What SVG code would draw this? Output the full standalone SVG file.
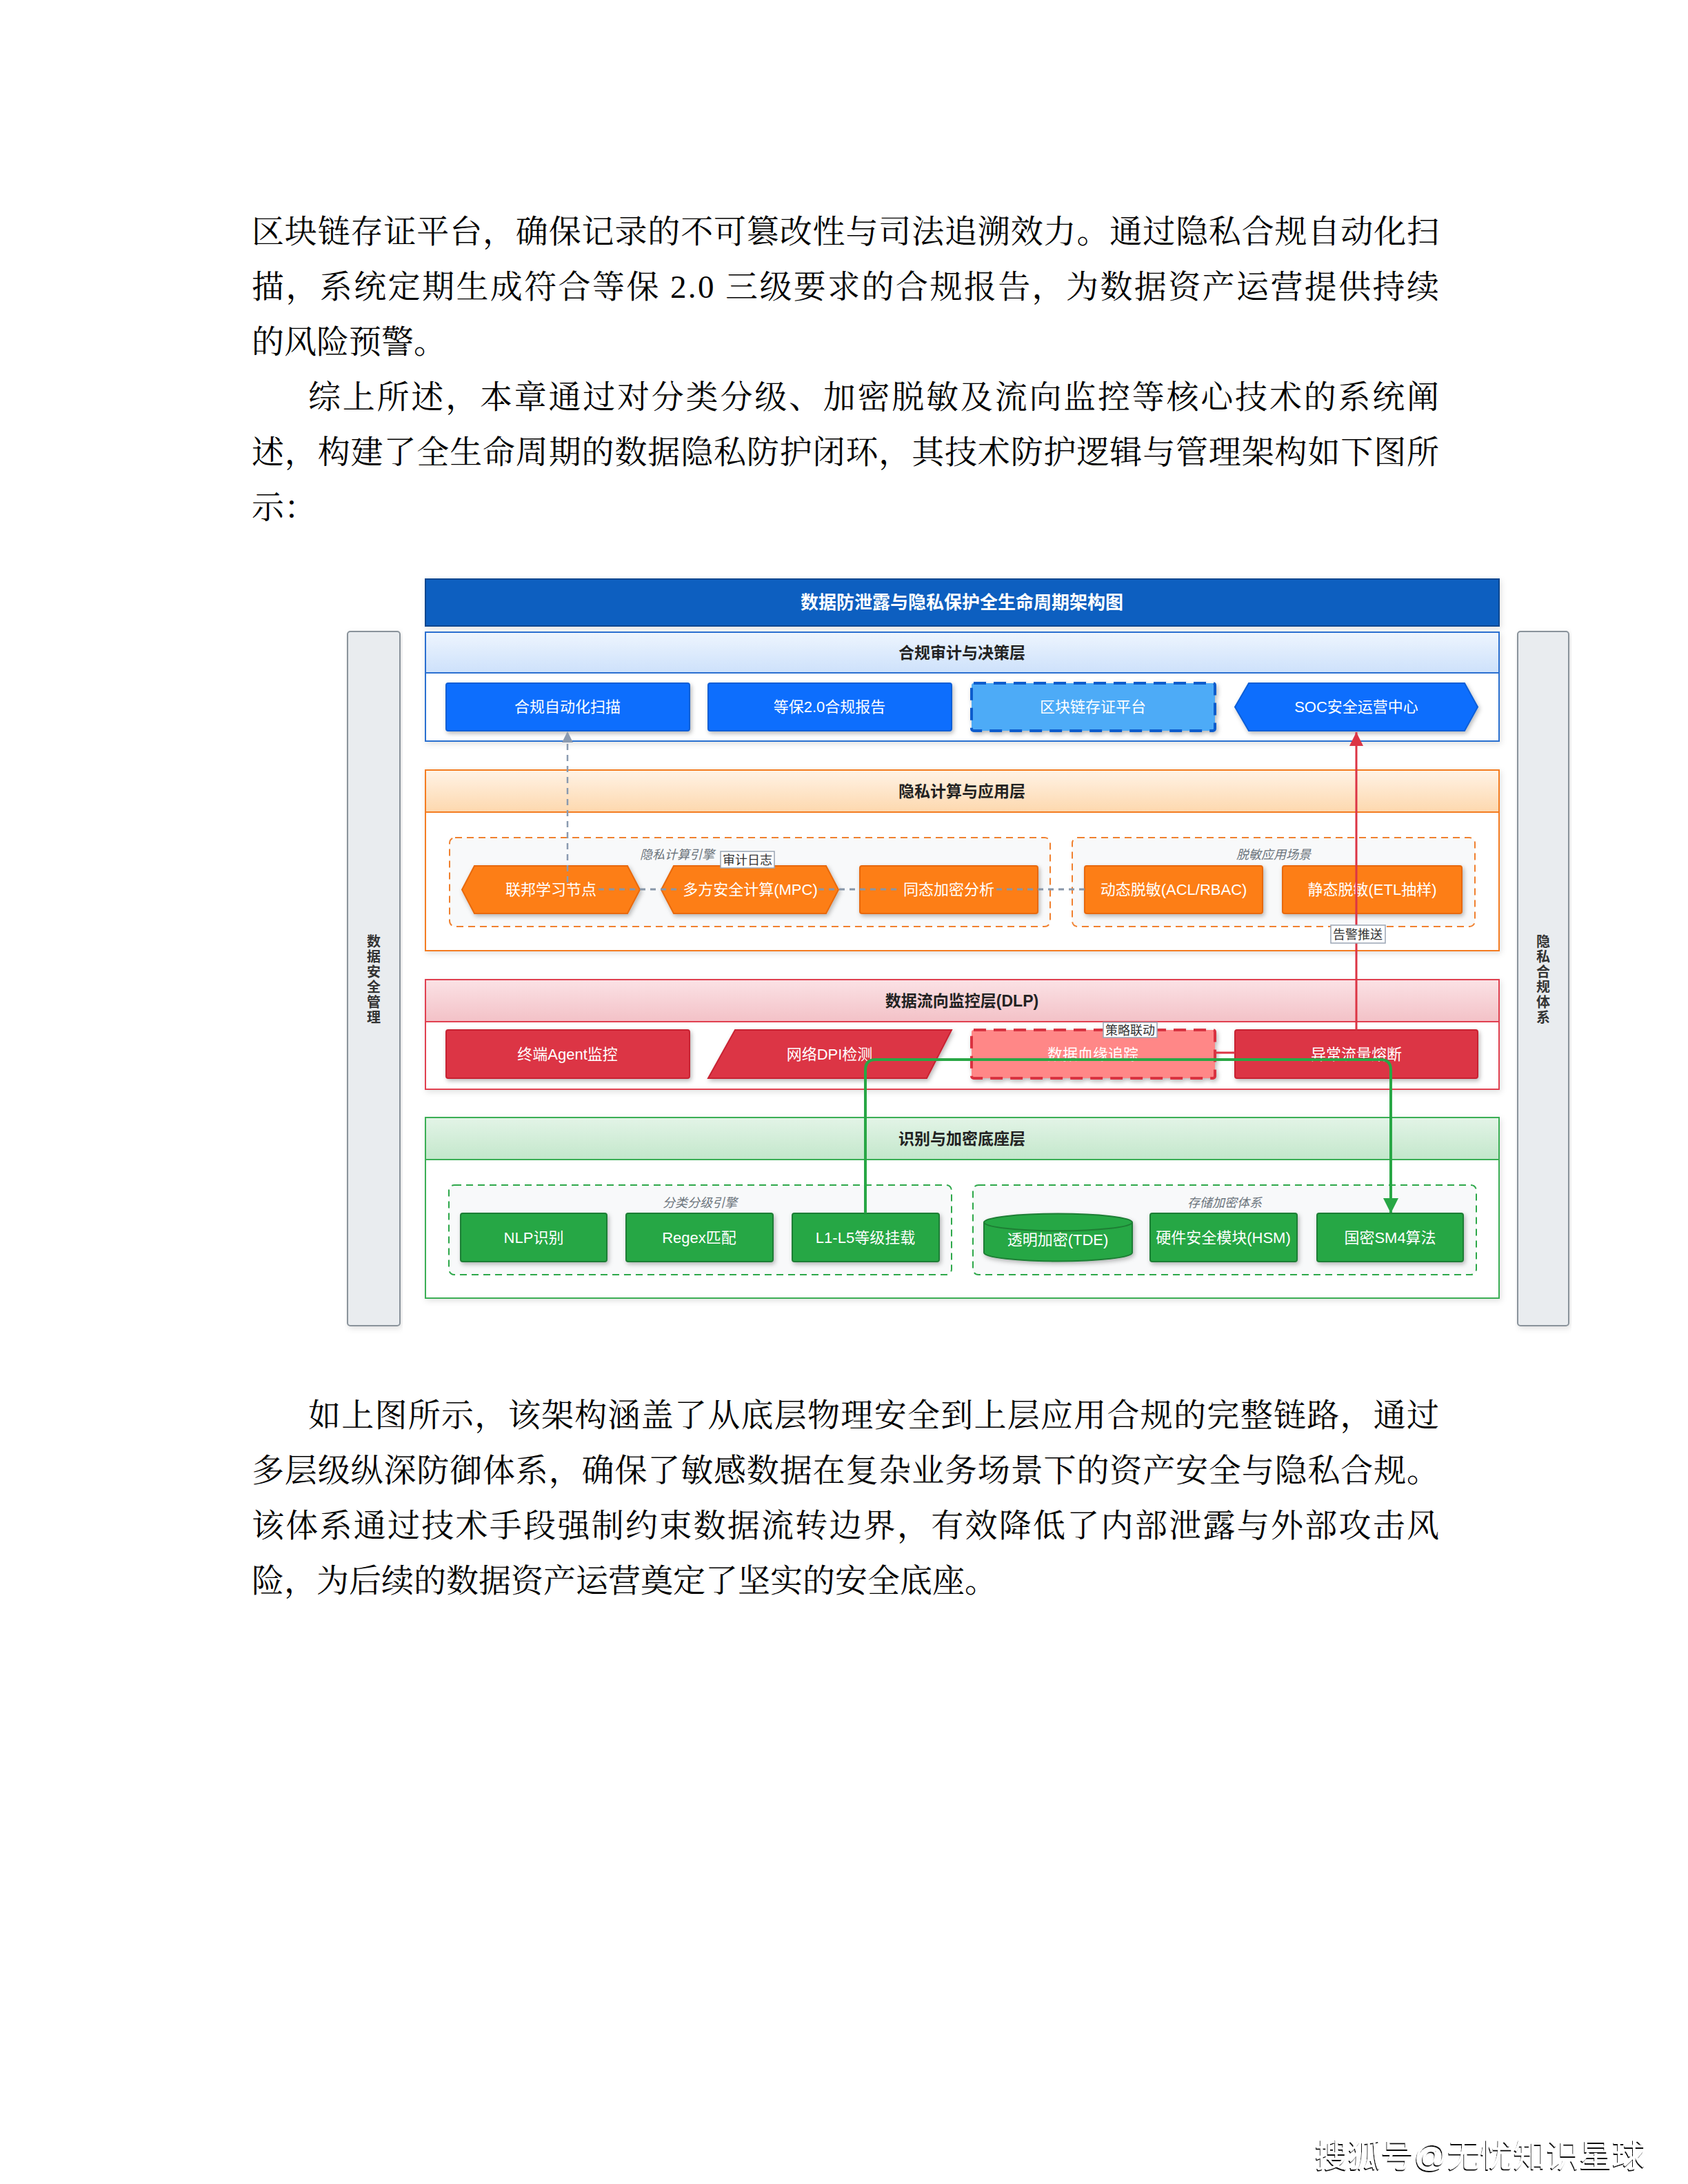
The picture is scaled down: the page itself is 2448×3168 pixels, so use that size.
<svg xmlns="http://www.w3.org/2000/svg" width="2448" height="3168" viewBox="0 0 2448 3168">
<style>
.page{font-family:"Liberation Serif","Noto Serif CJK SC","Noto Sans CJK SC",serif;font-size:47px;fill:#000}
.nt{font-family:"Liberation Sans","Noto Sans CJK SC",sans-serif;font-size:22px;fill:#fff;text-anchor:middle}
.ht{font-family:"Liberation Sans","Noto Sans CJK SC",sans-serif;font-size:23px;font-weight:bold;fill:#222;text-anchor:middle}
.gl{font-family:"Liberation Sans","Noto Sans CJK SC",sans-serif;font-size:18px;font-style:italic;fill:#6c757d;text-anchor:middle}
.el{font-family:"Liberation Sans","Noto Sans CJK SC",sans-serif;font-size:18px;fill:#333;text-anchor:middle}
.elb{fill:#fff;stroke:#9aa5b4;stroke-width:1.5}
.vt{font-family:"Liberation Sans","Noto Sans CJK SC",sans-serif;font-size:20px;font-weight:bold;fill:#333;text-anchor:middle}
.side{fill:#e9ecef;stroke:#8a939b;stroke-width:2}
.body{fill:#fff;stroke-width:2}
.nb{fill:#0d6efd;stroke:#0b5ed7;stroke-width:2}
.no{fill:#fd7e14;stroke:#e8690b;stroke-width:2}
.nr{fill:#dc3545;stroke:#c82333;stroke-width:2}
.ng{fill:#28a745;stroke:#1e7e34;stroke-width:2}
.grpo{fill:#f8f9fa;stroke:#f0802f;stroke-width:2;stroke-dasharray:10 7}
.grpg{fill:#f8f9fa;stroke:#2ea84a;stroke-width:2;stroke-dasharray:10 7}
</style>
<defs>
<filter id="sh" x="-10%" y="-20%" width="125%" height="150%">
<feDropShadow dx="2" dy="3" stdDeviation="3" flood-color="#000" flood-opacity="0.28"/>
</filter>
<filter id="shl" x="-5%" y="-10%" width="110%" height="125%">
<feDropShadow dx="2" dy="3" stdDeviation="4" flood-color="#000" flood-opacity="0.12"/>
</filter>
<filter id="wm" x="-5%" y="-30%" width="110%" height="160%">
<feDropShadow dx="-1" dy="2" stdDeviation="0.6" flood-color="#000" flood-opacity="0.95"/>
</filter>
<linearGradient id="gB" x1="0" y1="0" x2="0" y2="1"><stop offset="0" stop-color="#eef5fe"/><stop offset="1" stop-color="#cde1fb"/></linearGradient>
<linearGradient id="gO" x1="0" y1="0" x2="0" y2="1"><stop offset="0" stop-color="#fff3e6"/><stop offset="1" stop-color="#fdd8ae"/></linearGradient>
<linearGradient id="gR" x1="0" y1="0" x2="0" y2="1"><stop offset="0" stop-color="#fbe2e5"/><stop offset="1" stop-color="#f3c1c7"/></linearGradient>
<linearGradient id="gG" x1="0" y1="0" x2="0" y2="1"><stop offset="0" stop-color="#e3f4e7"/><stop offset="1" stop-color="#c3e7cb"/></linearGradient>
<marker id="aGray" markerUnits="userSpaceOnUse" markerWidth="16" markerHeight="20" refX="15" refY="8" orient="auto"><path d="M0,0 L16,8 L0,16 Z" fill="#8a9ab0"/></marker>
<marker id="aRed" markerUnits="userSpaceOnUse" markerWidth="22" markerHeight="22" refX="20" refY="10" orient="auto"><path d="M0,0 L20,10 L0,20 Z" fill="#dc3545"/></marker>
<marker id="aGreen" markerUnits="userSpaceOnUse" markerWidth="24" markerHeight="24" refX="21" refY="11" orient="auto"><path d="M0,0 L22,11 L0,22 Z" fill="#28a745"/></marker>
</defs>
<rect x="0" y="0" width="2448" height="3168" fill="#fff"/>

<g id="page-text" class="page">
<text x="365" y="352" textLength="1722" lengthAdjust="spacing">区块链存证平台，确保记录的不可篡改性与司法追溯效力。通过隐私合规自动化扫</text>
<text x="365" y="432" textLength="1722" lengthAdjust="spacing">描，系统定期生成符合等保 2.0 三级要求的合规报告，为数据资产运营提供持续</text>
<text x="365" y="512">的风险预警。</text>
<text x="447" y="592" textLength="1640" lengthAdjust="spacing">综上所述，本章通过对分类分级、加密脱敏及流向监控等核心技术的系统阐</text>
<text x="365" y="672" textLength="1722" lengthAdjust="spacing">述，构建了全生命周期的数据隐私防护闭环，其技术防护逻辑与管理架构如下图所</text>
<text x="365" y="752">示：</text>
<text x="447" y="2069" textLength="1640" lengthAdjust="spacing">如上图所示，该架构涵盖了从底层物理安全到上层应用合规的完整链路，通过</text>
<text x="365" y="2149" textLength="1722" lengthAdjust="spacing">多层级纵深防御体系，确保了敏感数据在复杂业务场景下的资产安全与隐私合规。</text>
<text x="365" y="2229" textLength="1722" lengthAdjust="spacing">该体系通过技术手段强制约束数据流转边界，有效降低了内部泄露与外部攻击风</text>
<text x="365" y="2309">险，为后续的数据资产运营奠定了坚实的安全底座。</text>
</g>

<g id="side-left">
<rect class="side" x="504" y="916" width="76" height="1007" rx="4" filter="url(#shl)"/>
<text class="vt"><tspan x="542" y="1373">数</tspan><tspan x="542" y="1395">据</tspan><tspan x="542" y="1417">安</tspan><tspan x="542" y="1439">全</tspan><tspan x="542" y="1461">管</tspan><tspan x="542" y="1483">理</tspan></text>
</g>
<g id="side-right">
<rect class="side" x="2201" y="916" width="74" height="1007" rx="4" filter="url(#shl)"/>
<text class="vt"><tspan x="2238" y="1373">隐</tspan><tspan x="2238" y="1395">私</tspan><tspan x="2238" y="1417">合</tspan><tspan x="2238" y="1439">规</tspan><tspan x="2238" y="1461">体</tspan><tspan x="2238" y="1483">系</tspan></text>
</g>

<g id="title">
<rect x="617" y="840" width="1557" height="68" fill="#0b5ec0" stroke="#0a468f" stroke-width="2" filter="url(#shl)"/>
<text x="1395" y="883" font-family="Liberation Sans,Noto Sans CJK SC,sans-serif" font-size="26" font-weight="bold" fill="#fff" text-anchor="middle">数据防泄露与隐私保护全生命周期架构图</text>
</g>

<g id="layer-compliance">
<rect class="body" x="617" y="917" width="1557" height="158" stroke="#2a6fd0" filter="url(#shl)"/>
<rect x="617" y="917" width="1557" height="59" fill="url(#gB)" stroke="#2a6fd0" stroke-width="2"/>
<text class="ht" x="1395" y="955">合规审计与决策层</text>
</g>
<g id="layer-privacy">
<rect class="body" x="617" y="1117" width="1557" height="262" stroke="#f47c20" filter="url(#shl)"/>
<rect x="617" y="1117" width="1557" height="61" fill="url(#gO)" stroke="#f47c20" stroke-width="2"/>
<text class="ht" x="1395" y="1156">隐私计算与应用层</text>
</g>
<g id="layer-dlp">
<rect class="body" x="617" y="1421" width="1557" height="159" stroke="#e04050" filter="url(#shl)"/>
<rect x="617" y="1421" width="1557" height="61" fill="url(#gR)" stroke="#e04050" stroke-width="2"/>
<text class="ht" x="1395" y="1460">数据流向监控层(DLP)</text>
</g>
<g id="layer-base">
<rect class="body" x="617" y="1621" width="1557" height="262" stroke="#3aae54" filter="url(#shl)"/>
<rect x="617" y="1621" width="1557" height="61" fill="url(#gG)" stroke="#3aae54" stroke-width="2"/>
<text class="ht" x="1395" y="1660">识别与加密底座层</text>
</g>

<g id="group-privacy-engine">
<rect class="grpo" x="652" y="1215" width="871" height="129" rx="8"/>
<text class="gl" x="982" y="1246">隐私计算引擎</text>
</g>
<g id="group-desens">
<rect class="grpo" x="1555" y="1215" width="584" height="129" rx="8"/>
<text class="gl" x="1847" y="1246">脱敏应用场景</text>
</g>
<g id="group-classify">
<rect class="grpg" x="651" y="1719" width="729" height="130" rx="8"/>
<text class="gl" x="1015" y="1751">分类分级引擎</text>
</g>
<g id="group-storage">
<rect class="grpg" x="1411" y="1719" width="730" height="130" rx="8"/>
<text class="gl" x="1776" y="1751">存储加密体系</text>
</g>

<g id="n-scan"><rect class="nb" x="647" y="991" width="353" height="69" rx="3" filter="url(#sh)"/><text class="nt" x="823" y="1033">合规自动化扫描</text></g>
<g id="n-report"><rect class="nb" x="1027" y="991" width="353" height="69" rx="3" filter="url(#sh)"/><text class="nt" x="1203" y="1033">等保2.0合规报告</text></g>
<g id="n-chain"><rect x="1409" y="991" width="353" height="69" rx="3" fill="#4dabf7" stroke="#0b5ccc" stroke-width="4" stroke-dasharray="18 11" filter="url(#sh)"/><text class="nt" x="1585" y="1033" fill="#e8f2fc">区块链存证平台</text></g>
<g id="n-soc"><path class="nb" d="M1791,1025.5 L1811,991 L2124,991 L2143,1025.5 L2124,1060 L1811,1060 Z" filter="url(#sh)"/><text class="nt" x="1967" y="1033">SOC安全运营中心</text></g>

<g id="n-fl"><path class="no" d="M670,1290.5 L688,1256 L910,1256 L928,1290.5 L910,1325 L688,1325 Z" filter="url(#sh)"/><text class="nt" x="799" y="1298">联邦学习节点</text></g>
<g id="n-mpc"><path class="no" d="M959,1290.5 L977,1256 L1198,1256 L1216,1290.5 L1198,1325 L977,1325 Z" filter="url(#sh)"/><text class="nt" x="1088" y="1298">多方安全计算(MPC)</text></g>
<g id="n-he"><rect class="no" x="1247" y="1256" width="258" height="69" rx="3" filter="url(#sh)"/><text class="nt" x="1376" y="1298">同态加密分析</text></g>
<g id="n-dyn"><rect class="no" x="1573" y="1256" width="258" height="69" rx="3" filter="url(#sh)"/><text class="nt" x="1702" y="1298">动态脱敏(ACL/RBAC)</text></g>
<g id="n-static"><rect class="no" x="1860" y="1256" width="260" height="69" rx="3" filter="url(#sh)"/><text class="nt" x="1990" y="1298">静态脱敏(ETL抽样)</text></g>

<g id="n-agent"><rect class="nr" x="647" y="1494" width="353" height="70" rx="3" filter="url(#sh)"/><text class="nt" x="823" y="1537">终端Agent监控</text></g>
<g id="n-dpi"><path class="nr" d="M1066,1494 L1380,1494 L1344,1564 L1027,1564 Z" filter="url(#sh)"/><text class="nt" x="1203" y="1537">网络DPI检测</text></g>
<g id="n-lineage"><rect x="1409" y="1494" width="353" height="70" rx="3" fill="#ff8787" stroke="#d9303f" stroke-width="4" stroke-dasharray="18 11" filter="url(#sh)"/><text class="nt" x="1585" y="1537" fill="#fde8ea">数据血缘追踪</text></g>
<g id="n-fuse"><rect class="nr" x="1791" y="1494" width="352" height="70" rx="3" filter="url(#sh)"/><text class="nt" x="1967" y="1537">异常流量熔断</text></g>

<g id="n-nlp"><rect class="ng" x="668" y="1760" width="212" height="70" rx="3" filter="url(#sh)"/><text class="nt" x="774" y="1803">NLP识别</text></g>
<g id="n-regex"><rect class="ng" x="908" y="1760" width="213" height="70" rx="3" filter="url(#sh)"/><text class="nt" x="1014" y="1803">Regex匹配</text></g>
<g id="n-level"><rect class="ng" x="1149" y="1760" width="213" height="70" rx="3" filter="url(#sh)"/><text class="nt" x="1255" y="1803">L1-L5等级挂载</text></g>
<g id="n-tde"><path class="ng" d="M1427,1773 A107.5,12.5 0 0 1 1642,1773 L1642,1817 A107.5,12.5 0 0 1 1427,1817 Z" filter="url(#sh)"/><path d="M1427,1773 A107.5,12.5 0 0 0 1642,1773" fill="none" stroke="#1e7e34" stroke-width="2"/><text class="nt" x="1534" y="1806">透明加密(TDE)</text></g>
<g id="n-hsm"><rect class="ng" x="1668" y="1760" width="213" height="70" rx="3" filter="url(#sh)"/><text class="nt" x="1774" y="1803">硬件安全模块(HSM)</text></g>
<g id="n-sm4"><rect class="ng" x="1910" y="1760" width="212" height="70" rx="3" filter="url(#sh)"/><text class="nt" x="2016" y="1803">国密SM4算法</text></g>

<g id="connectors" fill="none">
<path d="M868,1290 H989 M1187,1290 H1307 M1445,1290 H1573" stroke="#8796a8" stroke-width="3" stroke-dasharray="8 7"/>
<path d="M823,1280 V1062" stroke="#8a9ab0" stroke-width="2.5" stroke-dasharray="9 7" marker-end="url(#aGray)"/>
<path d="M1967,1494 V1062" stroke="#dc3545" stroke-width="3" marker-end="url(#aRed)"/>
<path d="M1762,1527 H1791" stroke="#dc3545" stroke-width="3"/>
<path d="M1255,1760 V1552 Q1255,1537 1270,1537 H2002 Q2017,1537 2017,1552 V1759" stroke="#28a745" stroke-width="4" marker-end="url(#aGreen)"/>
<rect class="elb" x="1045" y="1235" width="78" height="24"/>
<text class="el" x="1084" y="1254">审计日志</text>
<rect class="elb" x="1930" y="1342" width="79" height="26"/>
<text class="el" x="1969" y="1362">告警推送</text>
<rect class="elb" x="1600" y="1483" width="78" height="22"/>
<text class="el" x="1639" y="1501">策略联动</text>
</g>

<g id="source-mark">
<text x="1907" y="3143" font-family="Liberation Sans,Noto Sans CJK SC,sans-serif" font-size="47" fill="#fff" textLength="479" lengthAdjust="spacingAndGlyphs" filter="url(#wm)">搜狐号@无忧知识星球</text>
</g>
</svg>
